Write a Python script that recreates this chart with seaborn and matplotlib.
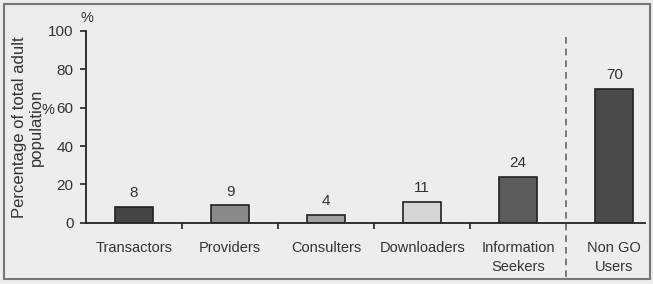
import matplotlib
matplotlib.use("Agg")
import matplotlib.pyplot as plt
import seaborn as sns
import pandas as pd
from matplotlib.patches import Rectangle
from matplotlib.ticker import FixedLocator

categories = ["Transactors", "Providers", "Consulters", "Downloaders",
              "Information\nSeekers", "Non GO\nUsers"]
values = [8, 9, 4, 11, 24, 70]
bar_colors = ["#444444", "#8a8a8a", "#a0a0a0", "#d6d6d6", "#5c5c5c", "#4a4a4a"]
y_ticks = [0, 20, 40, 60, 80, 100]

sns.set_theme(style="white")
plt.rcParams['font.family'] = ['Liberation Sans', 'DejaVu Sans']
txt = "#333333"

df = pd.DataFrame({"category": categories, "value": values})

fig = plt.figure(figsize=(6.53, 2.84), dpi=100)
bg = "#ededed"
fig.patch.set_facecolor(bg)
fig.patches.append(Rectangle((4/653, 5/284), 646/653, 275/284, transform=fig.transFigure,
                             fill=False, edgecolor="#777777", linewidth=1.5, zorder=0))

ax = fig.add_axes([86/653, (284-222.7)/284, 559/653, 191.7/284])
ax.set_facecolor("none")

sns.barplot(data=df, x="category", y="value", hue="category", palette=bar_colors,
            legend=False, width=0.4, edgecolor="#222222", linewidth=1.2,
            saturation=1, ax=ax)

ax.set_xlim(-0.5, 5.32)
ax.set_ylim(0, 100)
ax.set_yticks(y_ticks)
ax.tick_params(axis="y", length=4, width=1.2, color="#222222", pad=5,
               labelsize=11, labelcolor=txt, direction="out", left=True)
ax.tick_params(axis="x", which="major", length=0, pad=13, labelsize=10.5, labelcolor=txt)
for lbl in ax.get_xticklabels():
    lbl.set_linespacing(1.45)
ax.xaxis.set_minor_locator(FixedLocator([0.5, 1.5, 2.5, 3.5]))
ax.tick_params(axis="x", which="minor", length=4, width=1.2, color="#222222",
               direction="out", bottom=True)
ax.set_xlabel("")
ax.set_ylabel("")
for s in ["top", "right"]:
    ax.spines[s].set_visible(False)
for s in ["left", "bottom"]:
    ax.spines[s].set_color("#222222")
    ax.spines[s].set_linewidth(1.3)

for i, v in enumerate(values):
    ax.annotate(str(v), (i, v), xytext=(0, 5), textcoords="offset points",
                ha="center", va="bottom", fontsize=11, color=txt)

ax.plot([4.5, 4.5], [-28.5, 99], ls=(0, (4, 3)), color="#666666", lw=1.2, clip_on=False)

fig.text(28/653, 1 - 127/284, "Percentage of total adult\npopulation", rotation=90,
         ha="center", va="center", fontsize=12, color=txt, multialignment="center",
         linespacing=1.1)
fig.text(87/653, 1 - 18/284, "%", ha="center", va="center", fontsize=10.5, color=txt)
fig.text(48/653, 1 - 110/284, "%", ha="center", va="center", fontsize=10.5, color=txt)

fig.savefig("out.png", dpi=100, facecolor=bg)
